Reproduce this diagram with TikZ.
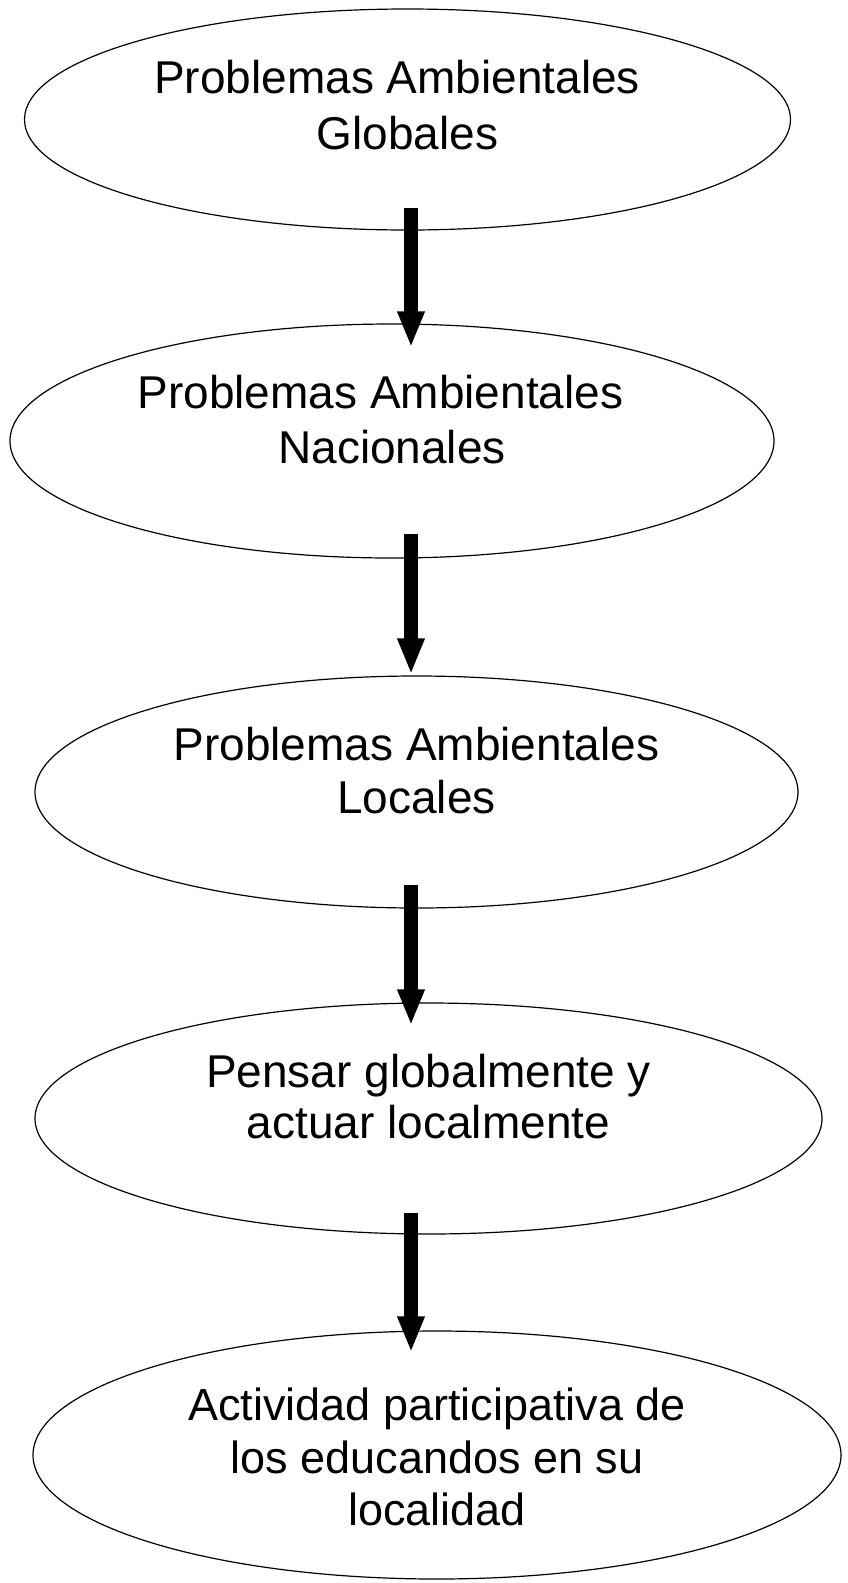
\documentclass[tikz,border=0pt]{standalone}
\usepackage{fontspec}
\setmainfont{Liberation Sans}
\usetikzlibrary{shapes.geometric,arrows.meta,calc}

\tikzset{
  oval/.style 2 args={draw, ellipse, line width=1.2pt, inner sep=0pt,
    minimum width=#1, minimum height=#2},
  lbl/.style={align=center, anchor=north, inner sep=0pt,
    font=\fontsize{46pt}{#1}\selectfont},
  lbl/.default=54pt,
  bigarrow/.style={line width=13.5pt, -{Triangle[length=36pt,width=25pt]}}
}

\begin{document}
\begin{tikzpicture}[x=1pt,y=-1pt]
      \useasboundingbox (0,0) rectangle (847,1583);

      % Define the positions of the nodes
      \node[oval={766pt}{221pt}] (glob) at (407.5,119.5) {};
      \node[oval={764pt}{234pt}] (nac) at (392,441) {};
      \node[oval={763pt}{232pt}] (loc) at (416.5,792) {};
      \node[oval={787pt}{231pt}] (pensar) at (428.5,1118.5) {};
      \node[oval={808pt}{248pt}] (activ) at (437,1455) {};

      % The texts inside
      \node[lbl=56pt] (glob-t) at ([yshift=59.5pt]glob.center) {Problemas Ambientales\hspace*{0.45em}\\Globales};
      \node[lbl=55pt] (nac-t) at ([yshift=66pt]nac.center) {Problemas Ambientales\hspace*{0.5em}\\Nacionales};
      \node[lbl=53pt] (loc-t) at ([yshift=65pt]loc.center) {Problemas Ambientales\\Locales};
      \node[lbl=51pt] (pensar-t) at ([yshift=64.5pt]pensar.center) {Pensar globalmente y\\actuar localmente};
      \node[lbl=52.5pt, font=\fontsize{45pt}{52.5pt}\selectfont] (activ-t) at ([yshift=67pt]activ.center) {Actividad participativa de\\los educandos en su\\localidad};

      \coordinate (axis) at (411,0);

      % Draw the edges
      \draw[bigarrow] ($(glob.south -| axis)+(0,-23)$) -- ($(nac.north -| axis)+(0,24)$);
      \draw[bigarrow] ($(nac.south -| axis)+(0,-25)$) -- ($(loc.north -| axis)+(0,-1)$);
      \draw[bigarrow] ($(loc.south -| axis)+(0,-24)$) -- ($(pensar.north -| axis)+(0,23)$);
      \draw[bigarrow] ($(pensar.south -| axis)+(0,-22)$) -- ($(activ.north -| axis)+(0,22)$);
\end{tikzpicture}
\end{document}
